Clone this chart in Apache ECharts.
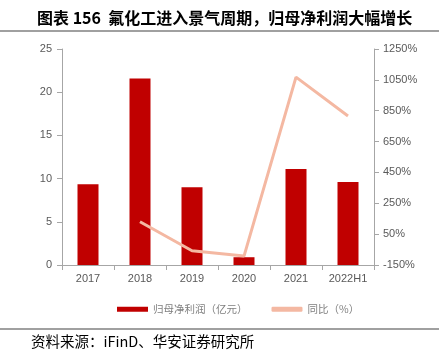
<!DOCTYPE html>
<html><head><meta charset="utf-8">
<script src="https://cdn.jsdelivr.net/npm/echarts@6/dist/echarts.min.js"></script>
<style>html,body{margin:0;padding:0;background:#fff}#c{width:439px;height:359px}</style>
</head><body><div id="c"></div>
<script>
var categories = ['2017','2018','2019','2020','2021','2022H1'];
var profit = [9.35, 21.6, 9.0, 0.9, 11.1, 9.6];
var yoy = [null, 130, -58, -92, 1068, 816];
var leftTicks = [0,5,10,15,20,25];
var rightTicks = [-150,50,250,450,650,850,1050,1250];

var chart = echarts.init(document.getElementById('c'));
var cjk = '"Noto Sans CJK SC", sans-serif';
var latin = '"Liberation Sans", Arial, sans-serif';
chart.setOption({
  animation:false,
  textStyle:{fontFamily:cjk},
  title:{text:'图表 156  氟化工进入景气周期，归母净利润大幅增长', left:32, top:5,
    textStyle:{fontSize:16, fontWeight:'bold', color:'#000', fontFamily:cjk}},
  graphic:[
    {type:'line', shape:{x1:0,y1:31,x2:439,y2:31}, style:{stroke:'#808080', lineWidth:1.5}},
    {type:'line', shape:{x1:0,y1:329,x2:439,y2:329}, style:{stroke:'#808080', lineWidth:1.5}},
    {type:'text', left:31, top:334, style:{text:'资料来源：iFinD、华安证券研究所', font:'14.5px "Noto Sans CJK SC"', fill:'#000'}}
  ],
  legend:{top:299, left:112, itemGap:24, itemWidth:31, itemHeight:5,
    textStyle:{color:'#7f7f7f', fontSize:10.5},
    data:[{name:'归母净利润（亿元）', icon:'rect'},{name:'同比（%）', icon:'roundRect'}]},
  grid:{left:62, right:65, top:49, bottom:94},
  xAxis:{type:'category', data:categories,
    axisLine:{lineStyle:{color:'#a6a6a6'}},
    axisTick:{show:true, lineStyle:{color:'#a6a6a6'}},
    axisLabel:{color:'#595959', fontSize:11, margin:8, fontFamily:latin}},
  yAxis:[
    {type:'value', min:0, max:25, interval:5, splitLine:{show:false},
     axisLine:{show:true, lineStyle:{color:'#a6a6a6'}},
     axisTick:{show:true, lineStyle:{color:'#a6a6a6'}},
     axisLabel:{color:'#595959', fontSize:11, margin:10, fontFamily:latin}},
    {type:'value', min:-150, max:1250, interval:200, splitLine:{show:false},
     axisLine:{show:true, lineStyle:{color:'#a6a6a6'}},
     axisTick:{show:true, lineStyle:{color:'#a6a6a6'}},
     axisLabel:{color:'#595959', fontSize:11, margin:9, fontFamily:latin,
       formatter:function(v){return v + '%';}}}
  ],
  series:[
    {name:'归母净利润（亿元）', type:'bar', data:profit, barWidth:21, itemStyle:{color:'#C00000'}},
    {name:'同比（%）', type:'line', yAxisIndex:1, data:yoy, symbol:'none',
     lineStyle:{color:'#F4B8A2', width:3}, itemStyle:{color:'#F4B8A2'}}
  ]
});
</script></body></html>
